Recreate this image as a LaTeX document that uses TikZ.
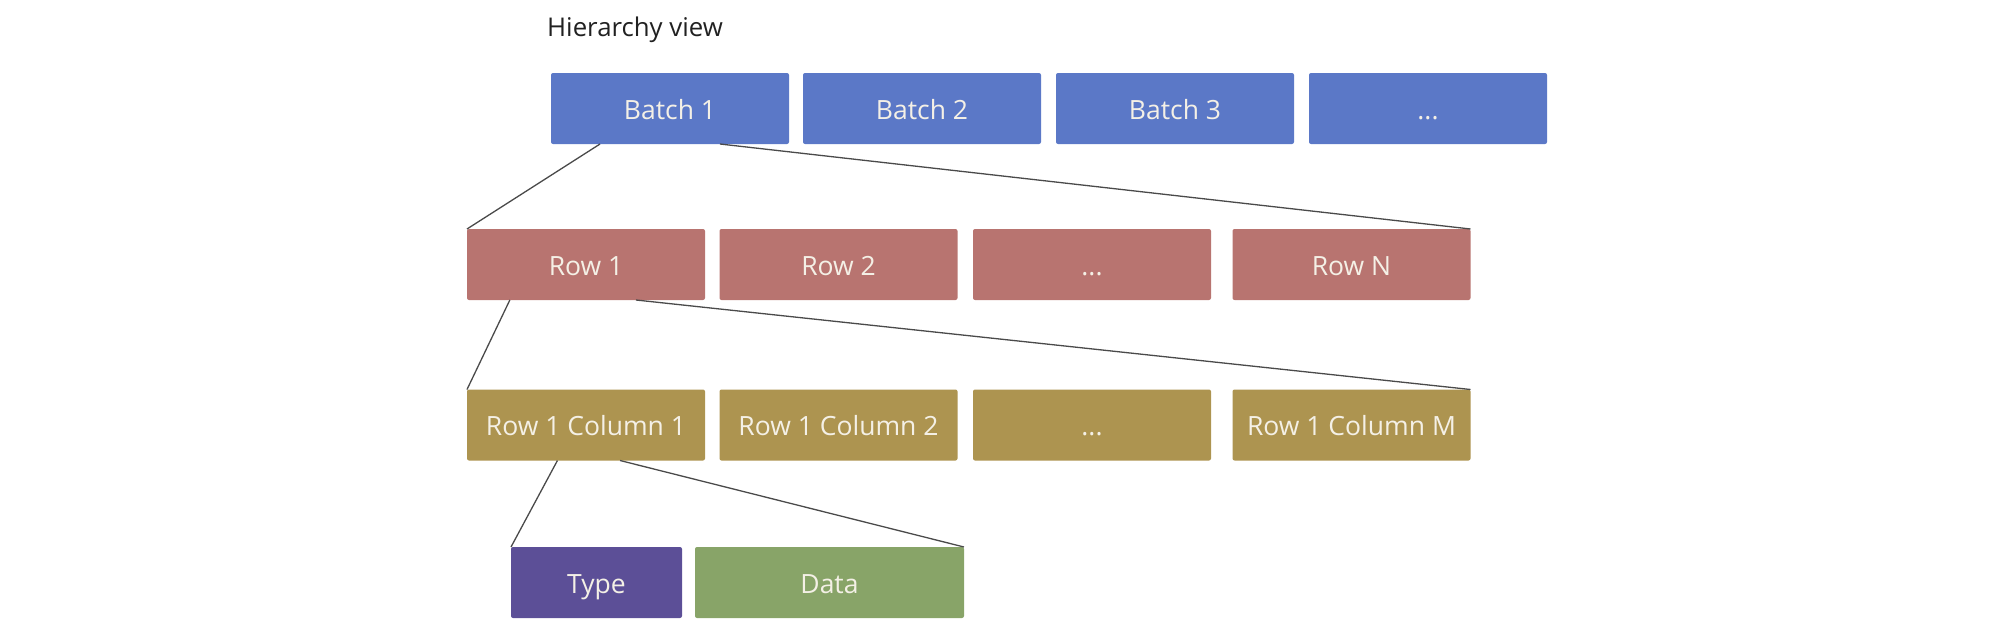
\documentclass[tikz,border=0pt]{standalone}
\usepackage{fontspec}
\setmainfont{Open Sans}
\usetikzlibrary{calc}
\definecolor{cblue}{HTML}{5B78C7}
\definecolor{crose}{HTML}{B87470}
\definecolor{cgold}{HTML}{AD9450}
\definecolor{cpurple}{HTML}{5C4F97}
\definecolor{cgreen}{HTML}{88A468}
\definecolor{ctext}{HTML}{F4F0E6}
\definecolor{cline}{HTML}{4A4A4A}
\begin{document}
\begin{tikzpicture}[x=1pt,y=-1pt,
  cell/.style={rectangle, rounded corners=2pt, inner sep=0pt, outer sep=0pt,
    minimum height=71pt, text height=27pt, text depth=6pt, text=ctext,
    font=\fontsize{26.5}{32}\selectfont},
  wide/.style={cell, minimum width=238pt},
  link/.style={draw=cline, line width=1.3pt}]
\useasboundingbox (0,0) rectangle (2000,637);
\node[anchor=base west, text=black!87, inner sep=0pt, font=\fontsize{25.8}{31}\selectfont] (title) at (547,36.5) {Hierarchy view};
% batches
\node[wide, fill=cblue] (b1) at (670,108.5) {Batch 1};
\node[wide, fill=cblue] (b2) at (922,108.5) {Batch 2};
\node[wide, fill=cblue] (b3) at (1175,108.5) {Batch 3};
\node[wide, fill=cblue] (b4) at (1428,108.5) {...};
% rows
\node[wide, fill=crose] (r1) at (586,264.5) {Row 1};
\node[wide, fill=crose] (r2) at (838.5,264.5) {Row 2};
\node[wide, fill=crose] (r3) at (1092,264.5) {...};
\node[wide, fill=crose] (rn) at (1351.5,264.5) {Row N};
% columns
\node[wide, fill=cgold] (c1) at (586,425) {Row 1 Column 1};
\node[wide, fill=cgold] (c2) at (838.5,425) {Row 1 Column 2};
\node[wide, fill=cgold] (c3) at (1092,425) {...};
\node[wide, fill=cgold] (cm) at (1351.5,425) {Row 1 Column M};
% leaf
\node[cell, fill=cpurple, minimum width=171pt] (ty) at (596.5,582.5) {Type};
\node[cell, fill=cgreen, minimum width=269pt] (da) at (829.5,582.5) {Data};
% connectors
\draw[link] ($(b1.south west)!0.206!(b1.south east)$) -- (r1.north west);
\draw[link] ($(b1.south west)!0.71!(b1.south east)$) -- (rn.north east);
\draw[link] ($(r1.south west)!0.18!(r1.south east)$) -- (c1.north west);
\draw[link] ($(r1.south west)!0.71!(r1.south east)$) -- (cm.north east);
\draw[link] ($(c1.south west)!0.38!(c1.south east)$) -- (ty.north west);
\draw[link] ($(c1.south west)!0.643!(c1.south east)$) -- (da.north east);
\end{tikzpicture}
\end{document}
